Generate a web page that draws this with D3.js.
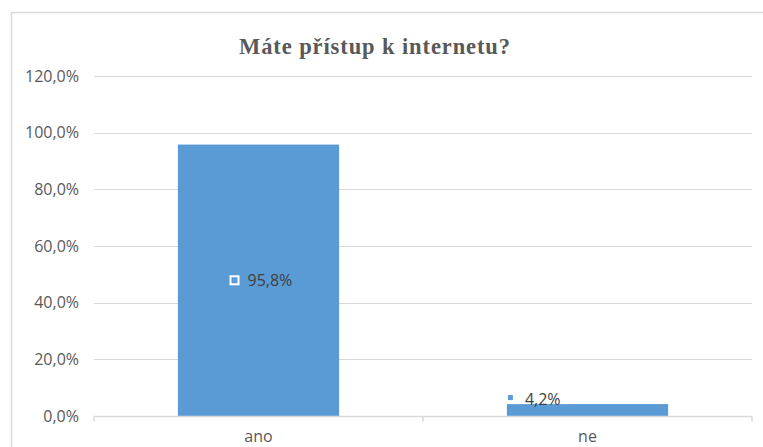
<!DOCTYPE html>
<html><head><meta charset="utf-8">
<script src="https://cdn.jsdelivr.net/npm/d3@7"></script>
<style>body{margin:0;background:#fff;}svg{display:block;}</style>
</head><body>
<svg id="c" width="763" height="447"></svg>
<script>
const categories = ["ano", "ne"];
const values = [95.8, 4.2];
const labels = ["95,8%", "4,2%"];
const yTicks = [0, 20, 40, 60, 80, 100, 120];
const title = "Máte přístup k internetu?";

const svg = d3.select("#c");
const W = 763, H = 447;
const m = {left: 94, right: 11, top: 76, bottom: 31};
const fmt = v => v.toFixed(1).replace(".", ",") + "%";
const FONT = "'Open Sans', sans-serif";
const FS = 16;

// frame
svg.append("path").attr("d", `M11.5,${H} L11.5,12.5 L${W},12.5`)
  .attr("fill","none").attr("stroke","#d9d9d9").attr("stroke-width",1.5);

svg.append("text").attr("x", 375).attr("y", 54).attr("text-anchor","middle")
  .attr("font-family","'Liberation Serif', serif").attr("font-weight","bold")
  .attr("font-size", 22.5).attr("letter-spacing", 0.9).attr("fill","#595959").text(title);

const x = d3.scaleBand().domain(categories).range([m.left, W - m.right]).paddingInner(0.51).paddingOuter(0.255);
const y = d3.scaleLinear().domain([0, 120]).range([H - m.bottom, m.top]);

// gridlines
svg.append("g").selectAll("line").data(yTicks.filter(t => t > 0)).join("line")
  .attr("x1", m.left).attr("x2", W - m.right)
  .attr("y1", d => Math.round(y(d)) + 0.5).attr("y2", d => Math.round(y(d)) + 0.5)
  .attr("stroke","#d9d9d9").attr("stroke-width",1);

// y labels
svg.append("g").selectAll("text").data(yTicks).join("text")
  .attr("x", 79).attr("y", d => y(d) + 5.5).attr("text-anchor","end")
  .attr("font-family",FONT).attr("font-size", FS).attr("fill","#595959")
  .text(fmt);

// bars
svg.append("g").selectAll("rect").data(values).join("rect")
  .attr("x", (d,i) => x(categories[i])).attr("width", x.bandwidth())
  .attr("y", d => y(d)).attr("height", d => y(0) - y(d))
  .attr("fill","#5b9bd5");

// x axis
const y0 = Math.round(y(0)) + 0.5;
const step = x.step();
const axTicks = [m.left, m.left + step, W - m.right];
svg.append("line").attr("x1", m.left).attr("x2", W - m.right).attr("y1", y0).attr("y2", y0)
  .attr("stroke","#d9d9d9").attr("stroke-width",1.5);
svg.append("g").selectAll("line").data(axTicks).join("line")
  .attr("x1", d => d).attr("x2", d => d).attr("y1", y0).attr("y2", y0 + 5)
  .attr("stroke","#d9d9d9").attr("stroke-width",1.5);

svg.append("g").selectAll("text").data(categories).join("text")
  .attr("x", d => x(d) + x.bandwidth()/2).attr("y", 442).attr("text-anchor","middle")
  .attr("font-family",FONT).attr("font-size", FS).attr("fill","#595959")
  .text(d => d);

// data labels
const c0 = x(categories[0]) + x.bandwidth()/2;
const ly0 = y(values[0]/2);
svg.append("rect").attr("x", c0 - 28).attr("y", ly0 - 4).attr("width", 8).attr("height", 8)
  .attr("fill","#5b9bd5").attr("stroke","#fff").attr("stroke-width",2);
svg.append("text").attr("x", c0 - 11).attr("y", ly0 + 6)
  .attr("font-family",FONT).attr("font-size", FS).attr("fill","#404040")
  .text(labels[0]);
const x1 = x(categories[1]);
const ly1 = y(values[1]) - 5;
svg.append("rect").attr("x", x1 + 1).attr("y", ly1 - 4).attr("width", 5).attr("height", 5)
  .attr("fill","#5b9bd5");
svg.append("text").attr("x", x1 + 18).attr("y", ly1 + 5.5)
  .attr("font-family",FONT).attr("font-size", FS).attr("fill","#404040")
  .text(labels[1]);
</script>
</body></html>
